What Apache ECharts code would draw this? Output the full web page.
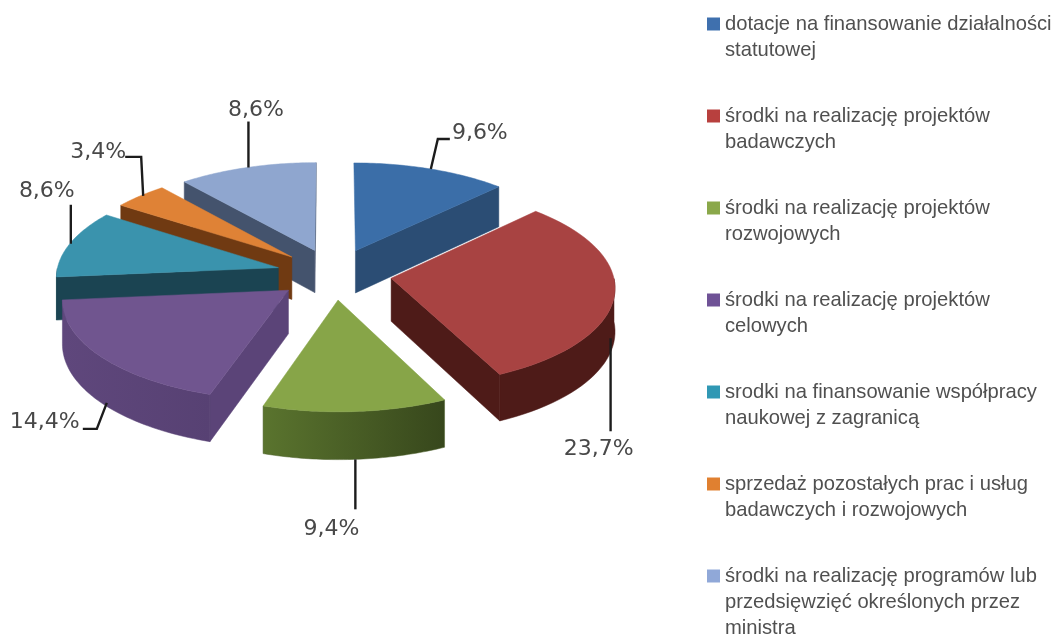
<!DOCTYPE html>
<html><head><meta charset="utf-8">
<style>html,body{margin:0;padding:0;background:#fff}#c{width:1056px;height:637px}</style>
<script src="https://cdn.jsdelivr.net/npm/echarts@6/dist/echarts.min.js"></script>
</head><body><div id="c"></div>
<script>
// data
const names = [
  'dotacje na finansowanie działalności\nstatutowej',
  'środki na realizację projektów\nbadawczych',
  'środki na realizację projektów\nrozwojowych',
  'środki na realizację projektów\ncelowych',
  'srodki na finansowanie współpracy\nnaukowej z zagranicą',
  'sprzedaż pozostałych prac i usług\nbadawczych i rozwojowych',
  'środki na realizację programów lub\nprzedsięwzięć określonych przez\nministra'
];
const values = [9.6, 23.7, 9.4, 14.4, 8.6, 3.4, 8.6];

// styles
const legendColors = ['#3f70ae','#b8403e','#8aa84a','#6f5296','#3098b4','#e08030','#90a8d8'];
const topColors    = ['#3b6ea8','#a84342','#87a548','#70558f','#3a93ad','#df8236','#8fa6cf'];
const wallColors   = ['#2b4d74','#4e1b18','#4a5f28','#5b4478','#1b4452','#703a12','#44536d'];
const rimLeft      = ['#2b4d74','#4e1b18','#5a742e','#5f477c','#1b4452','#703a12','#44536d'];
const rimRight     = ['#2b4d74','#4e1b18','#37471c','#574173','#1b4452','#703a12','#44536d'];
const paintOrder   = [6, 0, 5, 4, 3, 1, 2];
// leader bends and label centre, relative to the rim point at mid-slice
const leaderBends  = [[[7,-30],[19,-30]], [[-4,93]], [[0,50]], [[-4.5,26],[-18.5,26]], [[1,-39]], [[1,-39],[-15,-39]], [[1.5,-46]]];
const labelOffsets = [[49,-36], [-16,111], [-24,70], [-56.5,19], [-23,-52], [-42,-44], [9,-57]];
const startShift   = [0, -4, 0, 5.5, 1, 3, 1.5];

// projection
const CX = 334, CY = 274, R = 222, K = 98.4, P = 0.08, DEPTH = 43, EXPLODE = 0.26;
const total = values.reduce((a, b) => a + b, 0);
const fmt = v => v.toFixed(1).replace('.', ',') + '%';
const starts = values.map((_, i) => values.slice(0, i).reduce((a, b) => a + b, 0) / total * Math.PI * 2);

function project(u, v, drop) {
  const s = 1 / (1 - P * v);
  return [CX + R * u * s, CY + K * v * s + (drop ? DEPTH * s : 0)];
}
function sliceGeom(i) {
  const a0 = starts[i], a1 = a0 + values[i] / total * Math.PI * 2, mid = (a0 + a1) / 2;
  const ou = EXPLODE * Math.sin(mid), ov = -EXPLODE * Math.cos(mid);
  const at = (a, drop) => project(ou + Math.sin(a), ov - Math.cos(a), drop);
  const apex = drop => project(ou, ov, drop);
  return { a0, a1, mid, at, apex };
}
function shape(points, fill) {
  return { type: 'polygon', shape: { points }, style: { fill, stroke: fill, lineWidth: 0.5 } };
}
function renderSlice(i) {
  const g = sliceGeom(i), n = 48, rim = [];
  for (let k = 0; k <= n; k++) rim.push(g.a0 + (g.a1 - g.a0) * k / n);
  const kids = [];
  // radial walls: keep only those turned towards the viewer
  [[g.a0, -1], [g.a1, 1]].forEach(([a, side]) => {
    const normalV = side * Math.sin(a);       // forward component of the outward normal
    if (normalV > 0) {
      kids.push(shape([g.apex(false), g.at(a, false), g.at(a, true), g.apex(true)], wallColors[i]));
    }
  });
  // outer wall: only the front half of the rim
  const front = rim.filter(a => Math.cos(a) < 0);
  if (front.length > 1) {
    const xs = front.map(a => g.at(a, false)[0]);
    const x0 = Math.min(...xs), x1 = Math.max(...xs);
    const pts = front.map(a => g.at(a, false)).concat(front.slice().reverse().map(a => g.at(a, true)));
    const el = shape(pts, new echarts.graphic.LinearGradient(x0, 0, x1, 0,
      [{ offset: 0, color: rimLeft[i] }, { offset: 1, color: rimRight[i] }], true));
    el.style.stroke = wallColors[i];
    kids.push(el);
  }
  // top face
  kids.push(shape([g.apex(false)].concat(rim.map(a => g.at(a, false))), topColors[i]));
  // leader line and value label
  const isFront = Math.cos(g.mid) < 0;
  const p0 = g.at(g.mid, isFront);
  const start = [p0[0] + startShift[i], p0[1]];
  const line = [start].concat(leaderBends[i].map(o => [p0[0] + o[0], p0[1] + o[1]]));
  kids.push({ type: 'polyline', z2: 10, shape: { points: line }, style: { stroke: '#1c1c1c', lineWidth: 2.4, fill: 'none' } });
  kids.push({ type: 'text', z2: 10, x: p0[0] + labelOffsets[i][0], y: p0[1] + labelOffsets[i][1],
    style: { text: fmt(values[i]), fontFamily: 'DejaVu Sans', fontSize: 22, fill: '#484848', align: 'center', verticalAlign: 'middle' } });
  return { type: 'group', children: kids };
}

const LINE = 26, LEGEND_FONT = 20.2;
// The legend centres its text on the marker: pad every entry to five lines, first text line in the middle,
// so that the marker sits beside the first line of each entry.
const padLegendText = name => '\n\n' + name + (name.split('\n').length < 3 ? '\n' : '');
const chart = echarts.init(document.getElementById('c'), null, { renderer: 'canvas' });
chart.setOption({
  animation: false,
  backgroundColor: '#fff',
  legend: {
    orient: 'vertical', left: 707, top: -41, height: 760, padding: 0, selectedMode: false,
    itemWidth: 13, itemHeight: 13, itemGap: -38,
    icon: 'rect',
    formatter: padLegendText,
    data: names,
    textStyle: { fontFamily: 'Liberation Sans', fontSize: LEGEND_FONT, color: '#505050', lineHeight: LINE }
  },
  series: paintOrder.map(i => ({
    type: 'custom', name: names[i], coordinateSystem: 'none', silent: true,
    itemStyle: { color: legendColors[i] },
    data: [[values[i]]],
    renderItem: () => renderSlice(i)
  }))
});
</script></body></html>
